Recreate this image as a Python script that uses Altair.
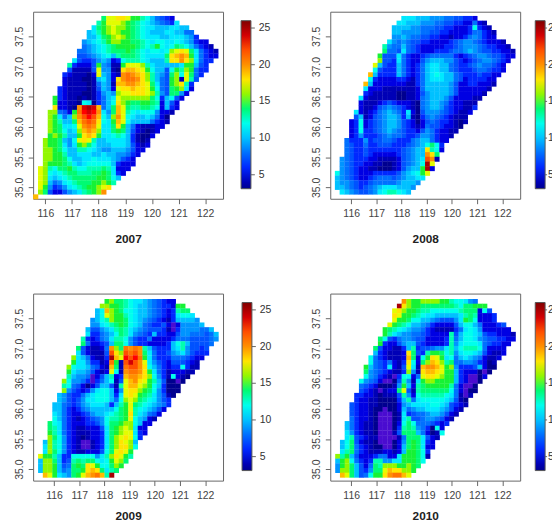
import altair as alt
import pandas as pd

# Each string is one image row, top to bottom; each character is a base-36 value
# (3..9, a=10 .. p=25); "2" marks the violet cells that lie below the colour bar.
rows_2007 = [(14,"ehhiihffdca8765"),(13,"dfhhhgfedcba9876b"),(12,"befghggfedcbbaaabbaa"),(11,"abdfghgffedcbaaabbaa88"),
(11,"aacefghgfedcbbbaabbba96"),(10,"9abcdfggffeedcbccbbcba9655"),(10,"89abcdeffffedcdfcbcedca8654"),(9,"889abcdeeefedcbccbcghiheb8654"),
(9,"7789abcadeeedcbbbbeijkjfb8655"),(8,"b76679a956cdddcbaaadiikigb866"),(7,"d65557f9844fhhhgdbaaaaabffa76"),(7,"744447h9943ijjihfcaa7cfdgf866"),
(6,"6544435ha954klkjigda97egche86"),(6,"5444334ab95ikllkigda87fg4hd7"),(6,"54444348a94jjkkjiheb87fgid6"),(5,"654444347a95hiijiihfc87efgb5"),
(5,"6544433469a9ghhiiihgd97ee95"),(4,"f6544343468abhggggggec6ac75"),(4,"f55443cb368acigfeeffed5a75"),(4,"i5543kopoj8aejheddeedc5a65"),
(3,"gg875flnonkb9ejhdcbccc9554"),(3,"gfb8agkmnmjcagkhcbaaba853"),(3,"gfdaaejlmlicbfjhcaaaa8654"),(3,"gfebbchklkhbbeifa8544455"),
(3,"gfecabgjkjgbbefea754345"),(3,"fgfdaafijifbbcdca64335"),(2,"gffea9chihdaabbbba6434"),(2,"gffeb9bfgecaaabbba7545"),
(2,"ggfecaaddcba99aaa9755"),(2,"ggffdaabbbaabaa99865"),(2,"ggffecaabbcbbba9765"),(2,"gfffedbabccccca6555"),
(1,"hgdceefdccdddedb555"),(1,"hgcbcdeedddeefeb65"),(1,"hgbabcdeeeeeffeca"),(1,"hga89bcdeeeffgfd"),
(1,"hf9679bcdeffghi"),(1,"ge75579abdefgk"),(0,"j")]

rows_2008 = [(14,"bbbaaa9998877665"),(13,"bbaaa99988776655854"),(12,"aaaa9988877665556c654"),(12,"aa99998877665555688654"),
(12,"99a9887766554556898655"),(11,"b989877665555678998765554"),(10,"d988a8765555566789998766554"),(10,"e887b8765556667889a987766554"),
(9,"f777b865567888886567899877655"),(9,"g776b865579aaa99765678998765"),(8,"ha766a86568abbaa876678988765"),(8,"c7666a86568abbaa876667887665"),
(7,"ja6666a86568abcbaa8766676655"),(7,"c65555665468abbbaa875666655"),(6,"ja55555554468aaaaa9755665554"),(6,"b555444444458aaaaa975555554"),
(6,"65444443344579aaaa97555554"),(5,"b54444443344589aaa97555544"),(5,"544456765554389aa98655444"),(5,"544578987654389aa97655446"),
(4,"b545689a986b5379998765445"),(4,"7a45789aa96a436898765444"),(3,"56c56789aa976535787665434"),(3,"56c56789aa97654587765543"),
(3,"56c66789a98766579865544"),(3,"5696667898876679986554"),(2,"8666967788766689aa8655"),(2,"8766866777666789acec6"),
(2,"876676666666789aaidc5"),(2,"876676555556789aakie"),(1,"9876665544445789abmk4"),(1,"9876655443345789acph"),
(1,"987655443334579aafp5"),(0,"c98765556666679abcfh"),(0,"a98765567888789aabb"),(0,"a9987667888889aaa9"),
(0,"aa9876789abbbaaa9"),(1,"ba987789bcddcba")]

rows_2009 = [(14,"fgeedcbba987655"),(13,"ggffedcbaa987665ff"),(12,"acjgfeccbaa987656dee"),(12,"achgffdcbaa987656bccb"),
(11,"9acdgffecba9876546aaaa9"),(11,"99bcdefecba876675259999a"),(10,"a779abdedba987776426999988a"),(10,"b6689acedb9876a665579988878a"),
(9,"d65689bddc9766855556888777789"),(9,"e85567aeec976655556acda77778"),(8,"e754458kgelklkda7666abd97767"),(8,"b754447migmlmkeb86679ab97666"),
(7,"gba85446pjhnmnlfb86668887655"),(7,"fbb96645lf4momkhb9765777654"),(6,"gcbba8754je4lmmkica86566c644"),(6,"fbaa97545hc4kllkifb86455544"),
(6,"da998257ad56jkkjigc964c543"),(5,"gc9986268ac47hjkihfda73323"),(5,"dc875357aa74dhjjhgfca6333"),(5,"g976569bcca59hiigfec96333"),
(4,"a97668abccca6bhihfedb9743"),(4,"a97679bbccca8cghgedcb976"),(3,"aa87679abbba6adfhedcba986"),(3,"aa865689aaaaacefhdcba975"),
(3,"ba8655679aabcdefidba875"),(3,"ca865456789cddefhca954"),(2,"ecb865556679ceefggca55"),(2,"edb865445557befghgb55"),
(2,"fdb865444556befghhb65"),(2,"gec965434556beghihc6"),(1,"agdc965422456begihga"),(1,"bgdc965422456begiigc"),
(1,"bgec965445557cehihf"),(0,"hffda66ccccc9bdgihfd"),(0,"aggea67dedeecbcfhge"),(0,"aggfa78efeihfccegf"),
(0,"aggfa89eefijiebde"),(1,"jhfba9efhjkljdp")]

rows_2010 = [(14,"kgffggggffdccb98"),(13,"pigffeeeeeeedceefff"),(12,"higffeddccccccdeee5c7"),(12,"ihffedcbbaaaaabded5556"),
(12,"hffeccaa987779bfec5556"),(11,"hfedcaa98655557acca855567"),(10,"fedcba99865444468bcb9555555"),(10,"fdba9988765555d7accba7665554"),
(9,"ec7689987755556d8accb98776655"),(9,"f65579aa7655556d9bcccb876655"),(8,"e755446ad677899bdacdddc85555"),(8,"a654445ie76dffecd9bccba75445"),
(7,"c8654445je5cfihfbc8aba985445"),(7,"c8768546ic5egjigde889986534"),(6,"fa876b547hb4jkkjhfg96667a533"),(6,"e98765446g94ijjihffa6555323"),
(6,"c9865426cc58hiihgffa652235"),(5,"c98752237d94bfggffffa65223"),(5,"876533349fa5defffffd85223"),(5,"76542455eh74deeeeeec85233"),
(4,"6655434447d95cdddddcb8424"),(4,"6554433336ad8bcccccba743"),(3,"765544333359abbbbccba7654"),(3,"76554332335a89aabbba9754"),
(3,"76554322234b67889aa9754"),(3,"86554322234bd778998754"),(2,"a86544322235cec8887656"),(2,"a86544322236ded9863c5"),
(2,"b96544322247eeea8534c"),(2,"bd76544222248eeeb754"),(1,"ace75443222359efeb65"),(1,"ace8654332235aefeb55"),
(1,"bde8654445545affec6"),(0,"gdfa755568855bfffec4"),(0,"afgc8656dd99bbfffec"),(0,"9fgea758edgggffgfe"),
(0,"9ggea769eehjiiggf"),(1,"jhea78cffiklljh")]

stops = [3.1, 5.6, 8.6, 11.6, 13.4, 15.2, 17.4, 20.0, 23.0, 26.0]
colors = ["#00008f", "#0000ff", "#0080ff", "#00ffff", "#00ff90", "#20f020", "#ffff00", "#ff9000", "#ff0000", "#800000"]
bar_ticks = [5, 10, 15, 20, 25]
lon_ticks = [116, 117, 118, 119, 120, 121, 122]
lat_ticks = [35.0, 35.5, 36.0, 36.5, 37.0, 37.5]
lat_dom = [34.81, 37.91]

# name, rows, first lon, cell lon, first lat, cell lat, x domain, bar x, label gap, bar tick length, title padding
panels = [
    ("2007", rows_2007, 115.54, 0.1828, 37.84, 0.0778, [115.54, 122.67], 211, 8, 4, 15),
    ("2008", rows_2008, 115.353, 0.1884, 37.84, 0.0778, [115.17, 122.71], 208, 3, 2, 15),
    ("2009", rows_2009, 115.366, 0.1884, 37.82, 0.0778, [115.17, 122.71], 212, 8, 4, 10),
    ("2010", rows_2010, 115.366, 0.1884, 37.82, 0.0778, [115.17, 122.71], 208, 3, 2, 10),
]

W, H, BAR_TOP, BAR_LEN = 192.7, 189.8, 9.1, 170.5

def panel(name, rows, lon0, dlon, lat0, dlat, xdom, bar_x, label_gap, tick_len, tpad):
    recs = []
    for r, (start, s) in enumerate(rows):
        for k, ch in enumerate(s):
            c = start + k
            recs.append({"lon": lon0 + c * dlon, "lon2": lon0 + (c + 1.06) * dlon,
                         "lat": lat0 - r * dlat, "lat2": lat0 - (r + 1.06) * dlat,
                         "v": int(ch, 36)})
    df = pd.DataFrame(recs)
    x = alt.X("lon:Q", scale=alt.Scale(domain=xdom, nice=False, zero=False),
              axis=alt.Axis(values=lon_ticks, format="d", title=name, grid=False, domain=False,
                            tickColor="#666", tickSize=5, labelPadding=5, labelFontSize=10.6,
                            labelColor="#444", labelFont="Liberation Sans", labelOverlap=False,
                            titleFont="Liberation Sans", titleFontSize=12, titleFontWeight="bold",
                            titleColor="#222", titlePadding=tpad))
    y = alt.Y("lat:Q", scale=alt.Scale(domain=lat_dom, nice=False, zero=False),
              axis=alt.Axis(values=lat_ticks, format=".1f", title=None, grid=False, domain=False,
                            tickColor="#666", tickSize=5, labelAngle=270, labelAlign="center",
                            labelBaseline="bottom", labelPadding=4, labelFontSize=10.6,
                            labelColor="#444", labelFont="Liberation Sans", labelOverlap=False))
    main = alt.Chart(df).mark_rect(strokeWidth=0).encode(
        x=x, x2="lon2:Q", y=y, y2="lat2:Q",
        color=alt.condition("datum.v < 3", alt.value("#4a0cd0"), alt.Color(
            "v:Q", scale=alt.Scale(domain=stops, range=colors, clamp=True),
            legend=alt.Legend(orient="none", legendX=bar_x, legendY=BAR_TOP, title=None,
                              type="gradient", gradientLength=BAR_LEN, gradientThickness=10,
                              gradientStrokeColor="#555", gradientStrokeWidth=1,
                              values=bar_ticks, labelFontSize=10.6, labelColor="#333",
                              labelFont="Liberation Sans", labelOffset=label_gap, labelOverlap=False))))
    # colour-bar tick marks: each value's position along the bar, expressed on the panel's y scale
    tick_lat = [lat_dom[1] - (BAR_TOP + (stops[-1] - t) / (stops[-1] - stops[0]) * BAR_LEN) / H * (lat_dom[1] - lat_dom[0])
                for t in bar_ticks]
    ticks = alt.Chart(pd.DataFrame({"lat": tick_lat})).mark_rule(color="#666", strokeWidth=1).encode(
        y=y, x=alt.value(bar_x + 10), x2=alt.value(bar_x + 10 + tick_len))
    return alt.layer(main, ticks).properties(width=W, height=H)

charts = [panel(*p) for p in panels]
chart = alt.concat(*charts, columns=2, spacing={"row": 96, "column": 108.5}, bounds="flush").resolve_scale(
    color="independent").resolve_legend(color="independent").configure_view(
    stroke="#666", strokeWidth=1).properties(
    autosize=alt.AutoSizeParams(type="none"),
    padding={"left": 25.5, "top": 0, "right": 526.5, "bottom": 513})
chart.save("out.html", embed_options={"renderer": "svg", "actions": False})
